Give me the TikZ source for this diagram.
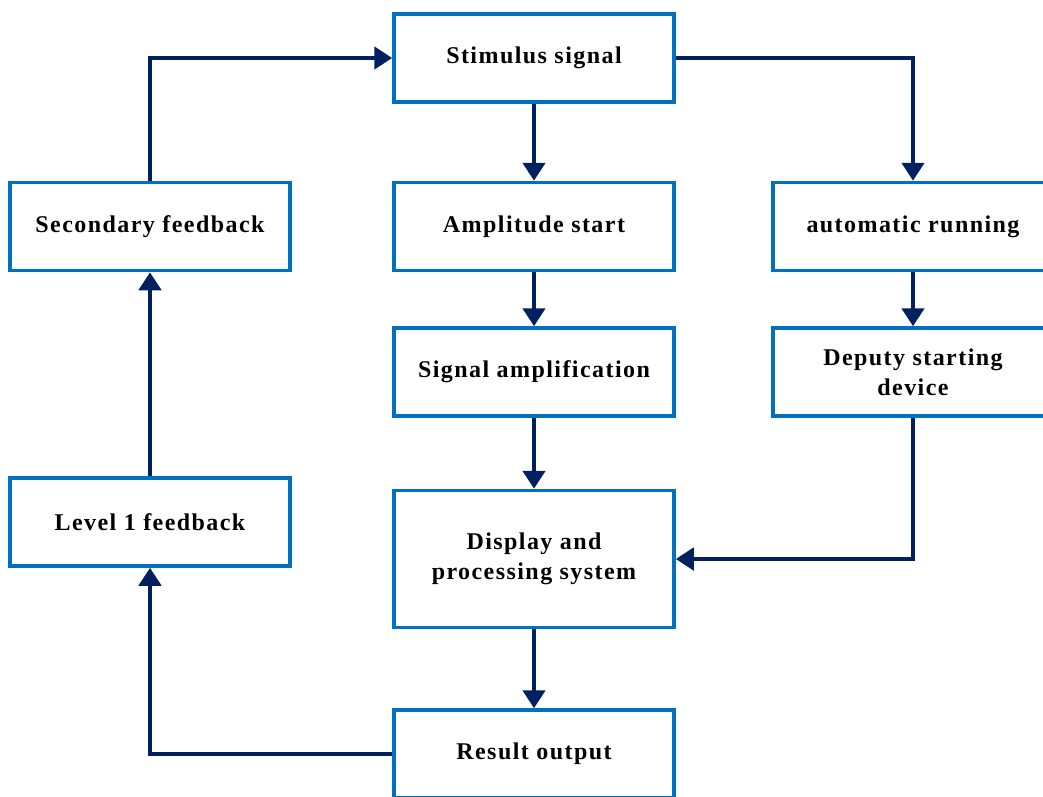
\documentclass[tikz,border=0pt]{standalone}
\usepackage{fontspec}
\setmainfont{Liberation Serif}
\usetikzlibrary{arrows.meta}
\definecolor{boxblue}{RGB}{0,112,192}
\definecolor{arrnavy}{RGB}{0,32,96}
\tikzset{
  blockbox/.style={draw=boxblue, line width=3.5pt, fill=white, minimum width=280pt, minimum height=88pt,
    inner sep=0pt, align=center, font=\fontsize{24}{30}\selectfont\bfseries\addfontfeatures{LetterSpace=6}},
  flowarr/.style={draw=arrnavy, line width=4.5pt, -{Triangle[length=18pt,width=22pt]}}
}

\begin{document}
\begin{tikzpicture}[x=1pt, y={(0pt,-1pt)}]
    \clip (0,0) rectangle (1043,796);
    \fill[white] (0,0) rectangle (1043,796);
    % boxes
    \node[blockbox] (stim) at (534,58) {Stimulus signal};
    \node[blockbox] (amp) at (534,226.5) {Amplitude start};
    \node[blockbox] (auto) at (913,226.5) {automatic running};
    \node[blockbox] (sec) at (150,226.5) {Secondary feedback};
    \node[blockbox] (sigamp) at (534,372) {Signal amplification};
    \node[blockbox] (deputy) at (913,372) {Deputy starting\\device};
    \node[blockbox] (lev) at (150,522) {Level 1 feedback};
    \node[blockbox, minimum height=137pt] (disp) at (534,559) {Display and\\processing system};
    \node[blockbox] (res) at (534,754) {Result output};
    % connectors
    \draw[flowarr] (stim) -- (amp);
    \draw[flowarr] (stim.east) -| (auto.north);
    \draw[flowarr] (amp) -- (sigamp);
    \draw[flowarr] (sigamp) -- (disp);
    \draw[flowarr] (auto) -- (deputy);
    \draw[flowarr] (deputy.south) |- (disp.east);
    \draw[flowarr] (disp) -- (res);
    \draw[flowarr] (res.west) -| (lev.south);
    \draw[flowarr] (lev) -- (sec);
    \draw[flowarr] (sec.north) |- (stim.west);
\end{tikzpicture}
\end{document}
